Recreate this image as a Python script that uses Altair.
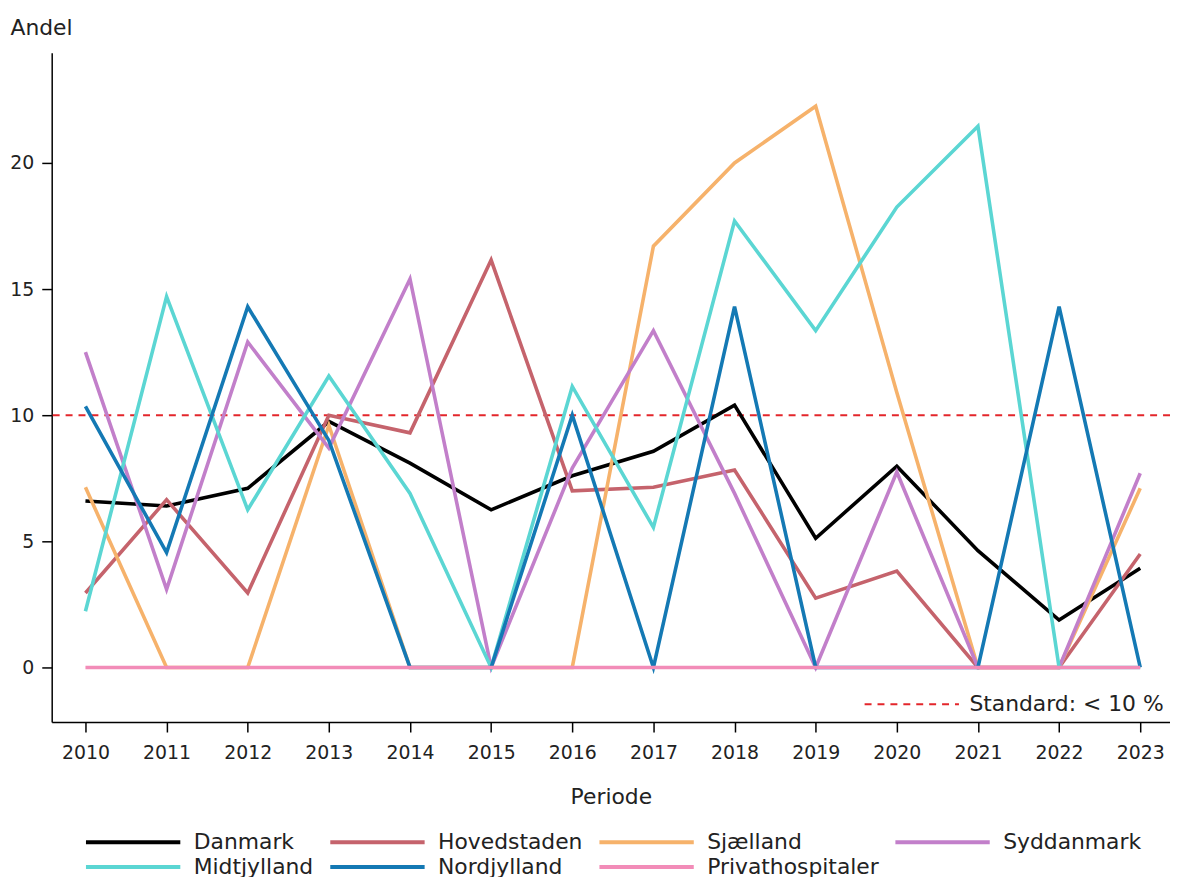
import altair as alt
import pandas as pd

years = list(range(2010, 2024))

regions = ["Danmark", "Hovedstaden", "Sjælland", "Syddanmark",
           "Midtjylland", "Nordjylland", "Privathospitaler"]
colors = ["#000000", "#c5636c", "#f6b26b", "#c27fca",
          "#5bd6d3", "#1479b4", "#f28cb8"]

danmark = [6.6, 6.4, 7.1, 9.75, 8.1, 6.25, 7.6, 8.57, 10.4, 5.12, 7.98, 4.63, 1.88, 3.93]
hovedstaden = [2.95, 6.65, 2.95, 10.0, 9.3, 16.15, 7.0, 7.14, 7.83, 2.75, 3.82, 0, 0, 4.5]
sjaelland = [7.14, 0, 0, 9.6, 0, 0, 0, 16.7, 20.0, 22.25, 10.9, 0, 0, 7.1]
syddanmark = [12.5, 3.1, 12.9, 8.7, 15.4, 0, 7.9, 13.35, 6.9, 0, 7.75, 0, 0, 7.7]
midtjylland = [2.23, 14.7, 6.25, 11.55, 6.9, 0, 11.14, 5.55, 17.7, 13.35, 18.25, 21.45, 0, 0]
nordjylland = [10.35, 4.55, 14.3, 9.0, 0, 0, 10.0, 0, 14.3, 0, 0, 0, 14.3, 0]
privathospitaler = [0, 0, 0, 0, 0, 0, 0, 0, 0, 0, 0, 0, 0, 0]

standard_value = 10
standard_label = "Standard: < 10 %"

series = [danmark, hovedstaden, sjaelland, syddanmark,
          midtjylland, nordjylland, privathospitaler]

rows = []
for name, vals in zip(regions, series):
    for yr, v in zip(years, vals):
        rows.append({"Region": name, "Periode": yr, "Andel": v})
df = pd.DataFrame(rows)

std_df = pd.DataFrame({"Andel": [standard_value], "Label": [standard_label]})

FONT = "DejaVu Sans"
YDOM = [-2.165, 24.37]
LONG_LINE = "M-4,0H4"   # wide, flat legend symbol

x_enc = alt.X(
    "Periode:Q",
    scale=alt.Scale(domain=[2009.584, 2023.367], nice=False, zero=False),
    axis=alt.Axis(values=years, format="d", title="Periode", grid=False,
                  titlePadding=24),
)
y_enc = alt.Y(
    "Andel:Q",
    scale=alt.Scale(domain=YDOM, nice=False, zero=False),
    axis=alt.Axis(values=[0, 5, 10, 15, 20], title="Andel", grid=False,
                  titleAngle=0, titleAlign="left", titleBaseline="middle",
                  titleX=-42, titleY=-25),
)

rule = alt.Chart(std_df).mark_rule(color="#e3262b", strokeWidth=2).encode(
    y=alt.Y("Andel:Q", scale=alt.Scale(domain=YDOM, nice=False, zero=False)),
    strokeDash=alt.StrokeDash(
        "Label:N",
        scale=alt.Scale(domain=[standard_label], range=[[7, 6]]),
        legend=alt.Legend(
            title=None, orient="none", legendX=853, legendY=643,
            direction="horizontal",
            symbolType=LONG_LINE, symbolSize=564, symbolStrokeWidth=2,
            symbolStrokeColor="#e3262b", labelFontSize=22, labelOffset=45,
            labelFont=FONT, labelColor="#222222", labelLimit=400,
        ),
    ),
)

lines = alt.Chart(df).mark_line(strokeWidth=3.6).encode(
    x=x_enc,
    y=y_enc,
    color=alt.Color(
        "Region:N",
        scale=alt.Scale(domain=regions, range=colors),
        sort=regions,
        legend=alt.Legend(
            title=None, orient="none", legendX=68, legendY=781, columns=4,
            direction="horizontal",
            symbolType=LONG_LINE, symbolSize=564, symbolStrokeWidth=4,
            labelFontSize=22, labelOffset=47, columnPadding=8, rowPadding=0,
            labelFont=FONT, labelColor="#222222", labelLimit=400,
        ),
    ),
    detail="Region:N",
)

chart = (
    alt.layer(rule, lines)
    .properties(
        width=1126,
        height=674,
        padding={"left": 44, "top": 42, "right": 0, "bottom": 153},
        autosize=alt.AutoSizeParams(type="none"),
    )
    .configure_view(stroke=None)
    .configure_axis(
        labelFont=FONT, titleFont=FONT, labelFontSize=19, titleFontSize=22,
        titleFontWeight="normal", labelColor="#222222", titleColor="#222222",
        domainColor="#000000", domainWidth=1.5, tickColor="#000000",
        tickWidth=1.5, tickSize=10, labelPadding=8,
    )
    .configure_axisX(labelPadding=12)
)

chart.save("out.html", embed_options={"renderer": "svg", "actions": False})
